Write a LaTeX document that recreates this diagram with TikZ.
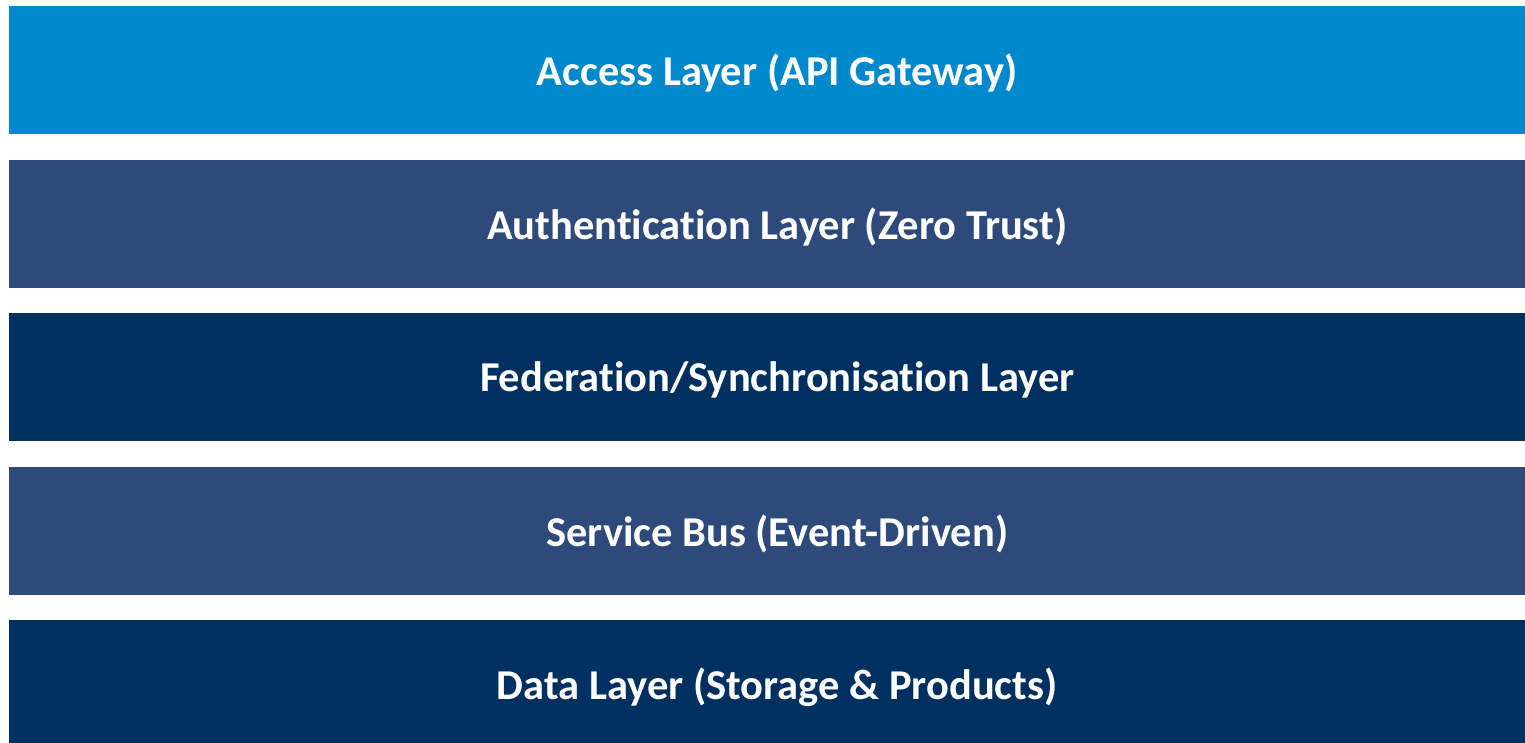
\documentclass[tikz,border=0pt]{standalone}
\usepackage{fontspec}
\setmainfont[Ligatures=CommonOff]{Carlito}
\definecolor{accessblue}{RGB}{0,136,204}
\definecolor{midblue}{RGB}{46,74,122}
\definecolor{darkblue}{RGB}{0,48,96}
\begin{document}
\begin{tikzpicture}[x=1pt,y=-1pt,
  layer/.style={draw=none,minimum width=1516pt,minimum height=128pt,inner sep=0pt,anchor=north west},
  layertext/.style={text=white,inner sep=0pt,xshift=10pt,yshift=-3pt,font=\fontsize{42.5}{48}\selectfont\bfseries}]
\useasboundingbox (0,0) rectangle (1525,743);
\begin{scope}
\clip (0,0) rectangle (1525,743);
\node[layer,fill=accessblue,label={[layertext]center:Access Layer (API Gateway)}] (access) at (9,6) {};
\node[layer,fill=midblue,label={[layertext]center:Authentication Layer (Zero Trust)}] (auth) at (9,159.5) {};
\node[layer,fill=darkblue,label={[layertext]center:Federation/Synchronisation Layer}] (fed) at (9,313) {};
\node[layer,fill=midblue,label={[layertext]center:Service Bus (Event-Driven)}] (bus) at (9,466.5) {};
\node[layer,fill=darkblue,minimum height=128pt,label={[layertext]center:Data Layer (Storage \& Products)}] (data) at (9,620) {};
\end{scope}
\end{tikzpicture}
\end{document}
